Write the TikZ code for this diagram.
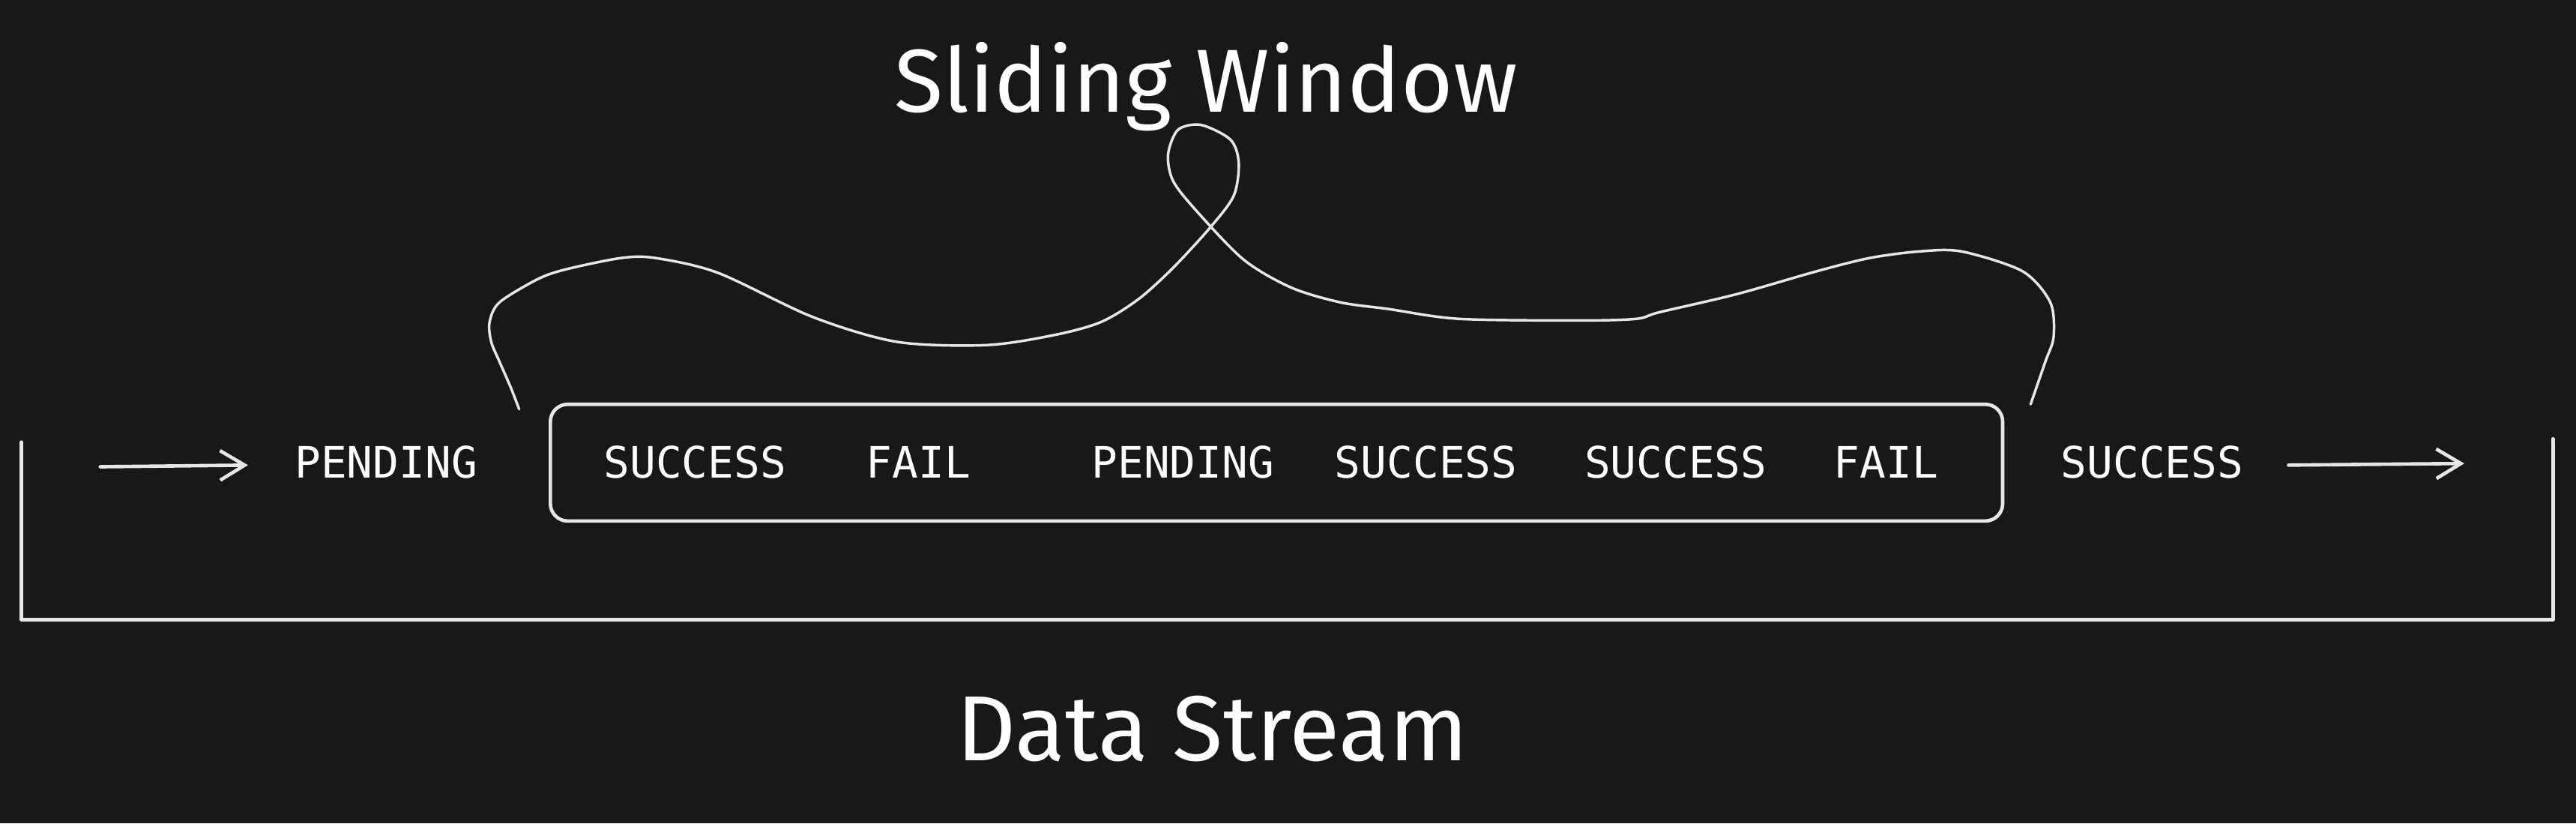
\documentclass[tikz,border=0pt]{standalone}
\usepackage{fontspec}
\usetikzlibrary{arrows.meta}
\setsansfont{Fira Sans}
\newfontfamily\statefont{DejaVu Sans Mono}
\definecolor{bg}{HTML}{181818}
\definecolor{ink}{HTML}{E6E6E6}

\begin{document}
\begin{tikzpicture}[x=0.02cm, y=-0.02cm,
    state/.style={anchor=base, text=white, font=\statefont\fontsize{15}{18}\selectfont},
    heading/.style={anchor=base, text=white, font=\sffamily\fontsize{31}{38}\selectfont},
    line/.style={ink, line width=1.2pt, line cap=round, line join=round},
    flow/.style={line, -{Straight Barb[length=0.3cm, width=0.36cm]}}]
\fill[bg] (0,0) rectangle (1568,501);
\draw
    (734,68)  node[heading] (title) {Sliding Window}
    (235,291) node[state]   (p1) {PENDING}
    (423,291) node[state]   (s1) {SUCCESS}
    (559,291) node[state]   (f1) {FAIL}
    (720,291) node[state]   (p2) {PENDING}
    (868,291) node[state]   (s2) {SUCCESS}
    (1020,291) node[state]  (s3) {SUCCESS}
    (1148,291) node[state]  (f2) {FAIL}
    (1310,291) node[state]  (s4) {SUCCESS}
    (738,463) node[heading, font=\sffamily\fontsize{32}{38}\selectfont] (stream) {Data Stream};
% stream in and out
\coordinate (inA) at (61,284);
\coordinate (inB) at (151,283);
\coordinate (outA) at (1393,283);
\coordinate (outB) at (1500,282);
\draw[flow] (inA) -- (inB);
\draw[flow] (outA) -- (outB);
% window
\draw[line, rounded corners=6pt] (335,246) rectangle (1219,317);
\draw[line, line width=0.9pt] plot[smooth, tension=0.5] coordinates {
    (316,249) (311,236) (304,220) (299,208) (298,196) (304,184) (327,170)
    (344,164) (378,157) (399,157) (437,166) (495,193) (546,208) (600,210)
    (641,204) (670,196) (693,182) (714,163) (737,138) (751,119) (754,99)
    (749,85) (731,76) (717,79) (711,94) (714,110) (728,128) (757,158)
    (786,175) (816,184) (845,188) (888,194) (961,195) (996,194) (1010,190)
    (1057,179) (1106,165) (1138,157) (1168,153) (1194,153) (1231,165)
    (1248,184) (1250,205) (1245,220) (1236,246)};
% stream bracket
\draw[line] (13,269) -- (13,377) -- (1554,377) -- (1554,267);
\end{tikzpicture}
\end{document}
